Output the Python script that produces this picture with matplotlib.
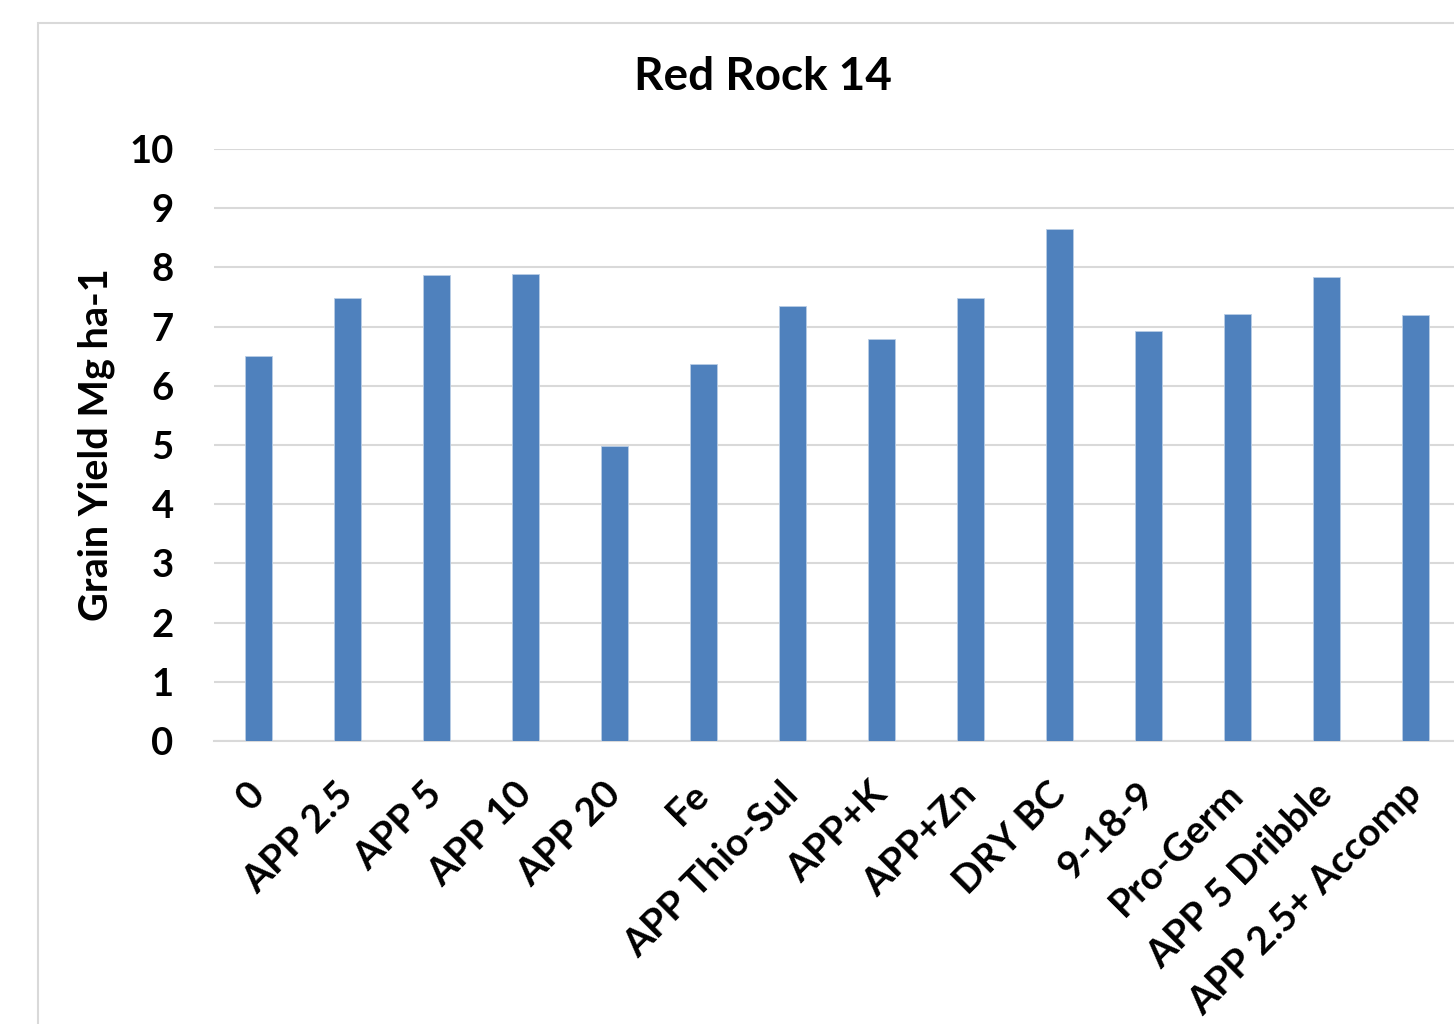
import matplotlib
matplotlib.use('Agg')
import matplotlib.pyplot as plt
from matplotlib.patches import Rectangle

categories = ['0', 'APP 2.5', 'APP 5', 'APP 10', 'APP 20', 'Fe', 'APP Thio-Sul',
              'APP+K', 'APP+Zn', 'DRY BC', '9-18-9', 'Pro-Germ', 'APP 5 Dribble',
              'APP 2.5+ Accomp']
grain_yield = [6.50, 7.49, 7.87, 7.89, 4.98, 6.37, 7.34,
               6.79, 7.49, 8.65, 6.92, 7.21, 7.83, 7.19]
y_ticks = [0, 1, 2, 3, 4, 5, 6, 7, 8, 9, 10]

plt.rcParams['font.family'] = ['Lato', 'DejaVu Sans']
plt.rcParams['font.weight'] = 'bold'

W, H = 1454, 1024
fig = plt.figure(figsize=(W / 100, H / 100), dpi=100)

# outer chart frame (runs off the right and bottom edges)
fig.patches.append(Rectangle((38 / W, -0.05), 1.1, 1 - 23 / H + 0.05,
                             transform=fig.transFigure, fill=False,
                             edgecolor='#d9d9d9', linewidth=1.5))

ax = fig.add_axes([214 / W, 1 - 741 / H, (1460 - 214) / W, (741 - 149) / H])
x = range(len(categories))
ax.bar(x, grain_yield, width=0.31, color='#4f81bd', edgecolor='#b9cde5',
       linewidth=0.6, zorder=3)

ax.set_xlim(-0.5, len(categories) - 0.5)
ax.set_ylim(0, 10)
ax.set_yticks(y_ticks)
ax.yaxis.grid(True, color='#d9d9d9', linewidth=1.5, zorder=0)
for s in ['top', 'right', 'left']:
    ax.spines[s].set_visible(False)
ax.spines['bottom'].set_color('#d9d9d9')
ax.spines['bottom'].set_linewidth(1.5)
ax.tick_params(axis='both', length=0, labelsize=27.5)
ax.tick_params(axis='y', pad=29)

ax.set_xticks(list(x))
ax.set_xticklabels(categories, rotation=45, ha='right', va='center',
                   rotation_mode='anchor', fontsize=28, fontweight='bold')
ax.tick_params(axis='x', pad=34)
for lbl in ax.get_yticklabels():
    lbl.set_fontweight('bold')

ax.set_ylabel('Grain Yield Mg ha-1', fontsize=28.5, fontweight='bold', labelpad=10)

fig.text(763 / W, 1 - 77 / H, 'Red Rock 14', ha='center', va='center',
         fontsize=33, fontweight='bold')

fig.savefig('out.png', dpi=100)
